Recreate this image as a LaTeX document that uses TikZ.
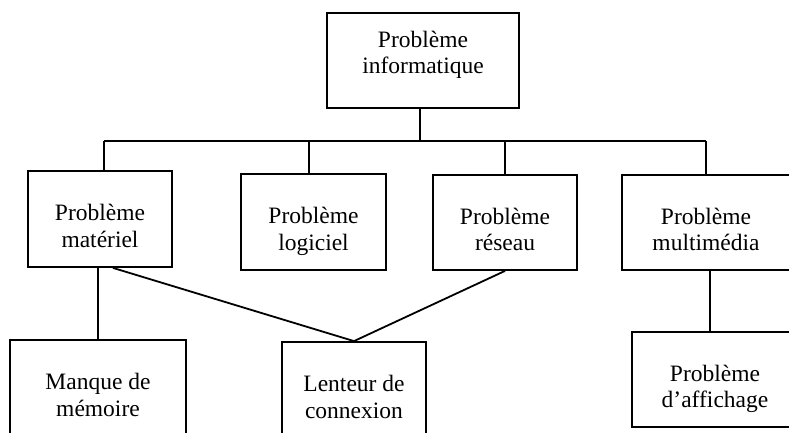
\documentclass[tikz,border=0pt]{standalone}
\usepackage{fontspec}
\setmainfont{Liberation Serif}
\newcommand{\topgap}{\rule{0pt}{36pt}}
\begin{document}
\begin{tikzpicture}[x=1pt, y=-1pt,
    box/.style={draw, line width=1.8pt, inner sep=0pt, align=center,
                font=\fontsize{23.5}{26.5}\selectfont,
                execute at end node={\rule[-#1]{0pt}{#1}}},
    box/.default=6pt,
    link/.style={line width=1.8pt},
  ]
    \useasboundingbox (0,0) rectangle (789,432);
    \clip (0,0) rectangle (789,432);

    % Root
    \node[box=16pt, minimum width=192pt, minimum height=95pt] (info) at (423,60.5) {Problème\\informatique};

    % Categories
    \node[box, minimum width=144pt, minimum height=96pt] (mat) at (100,219)   {\topgap Problème\\matériel};
    \node[box, minimum width=145pt, minimum height=96pt] (log) at (313.5,222) {\topgap Problème\\logiciel};
    \node[box, minimum width=144pt, minimum height=95pt] (res) at (505,222.5) {\topgap Problème\\réseau};
    \node[box, minimum width=168pt, minimum height=95pt] (mul) at (706,222.5) {\topgap Problème\\multimédia};

    % Causes
    \node[box, minimum width=176pt, minimum height=96pt] (man) at (98,388)    {\topgap Manque de\\mémoire};
    \node[box, minimum width=144pt, minimum height=96pt] (len) at (354,390)   {\topgap Lenteur de\\connexion};
    \node[box, minimum width=166pt, minimum height=95pt] (aff) at (715,379.5) {\topgap Problème\\d’affichage};

    % Bus
    \coordinate (busL) at ([xshift=4pt]mat.north |- 0,141);
    \coordinate (busR) at (mul.north |- busL);
    \coordinate (busM) at ([xshift=-3pt]info.south |- busL);

    \draw[link] ([xshift=-3pt]info.south) -- (busM);
    \draw[link] (busL) -- (busR);
    \draw[link] (busL) -- ([xshift=4pt]mat.north);
    \draw[link] ([xshift=-4.5pt]log.north) -- ([xshift=-4.5pt]log.north |- busL);
    \draw[link] (res.north) -- (res.north |- busL);
    \draw[link] (mul.north) -- (busR);

    % Lower links
    \draw[link] (man.north) -- (man.north |- mat.south);
    \draw[link] ([xshift=13pt]mat.south) -- (len.north) -- (res.south);
    \draw[link] ([xshift=4pt]mul.south) -- ([xshift=4pt]mul.south |- aff.north);
  \end{tikzpicture}
\end{document}
